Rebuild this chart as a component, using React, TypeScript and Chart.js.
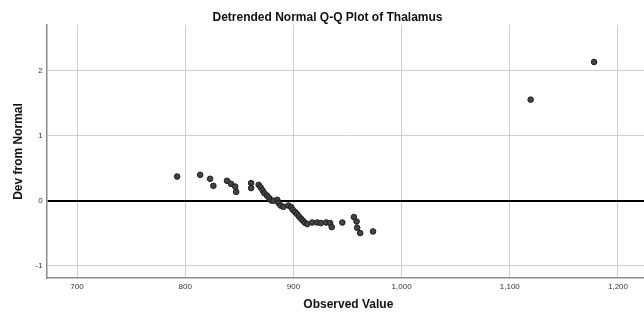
import React, { useEffect, useRef } from "react";
import { Chart, registerables } from "chart.js";

Chart.register(...registerables);

const observedValues = [
  792.5, 813.8, 823.0, 826.0, 838.6, 842.3, 846.2, 847.1, 860.9, 860.9,
  867.9, 869.8, 871.6, 873.1, 875.5, 877.7, 879.6, 881.7, 885.1, 886.3,
  888.1, 890.8, 895.4, 897.9, 899.4, 901.6, 903.4, 905.2, 907.1, 908.9,
  910.7, 912.8, 917.4, 922.0, 925.4, 930.2, 933.9, 935.4, 945.2, 955.9,
  958.4, 958.9, 961.7, 973.6, 1119.3, 1177.9,
];
const devFromNormal = [
  0.370, 0.396, 0.335, 0.227, 0.304, 0.258, 0.216, 0.135, 0.269, 0.192,
  0.242, 0.201, 0.155, 0.115, 0.078, 0.038, 0.002, -0.003, 0.012, -0.038,
  -0.075, -0.095, -0.075, -0.100, -0.141, -0.176, -0.207, -0.244, -0.279, -0.310,
  -0.341, -0.361, -0.336, -0.336, -0.345, -0.336, -0.345, -0.407, -0.336, -0.253,
  -0.321, -0.417, -0.499, -0.474, 1.551, 2.130,
];
const xTickValues = [700, 800, 900, 1000, 1100, 1200];
const yTickValues = [-1, 0, 1, 2];

const FONT = "'Liberation Sans', Arial, sans-serif";

export default function App() {
  const ref = useRef<HTMLCanvasElement | null>(null);

  useEffect(() => {
    if (!ref.current) return;
    const points = observedValues.map((x, i) => ({ x, y: devFromNormal[i] }));
    const chart = new Chart(ref.current, {
      type: "scatter",
      data: {
        datasets: [
          {
            data: points,
            backgroundColor: "#444444",
            borderColor: "#1c1c1c",
            borderWidth: 1,
            pointRadius: 2.8,
          },
        ],
      },
      options: {
        animation: false,
        responsive: false,
        maintainAspectRatio: false,
        layout: { padding: 0 },
        plugins: {
          legend: { display: false },
          tooltip: { enabled: false },
          title: {
            display: true,
            text: "Detrended Normal Q-Q Plot of Thalamus",
            color: "#111",
            font: { family: FONT, size: 12, weight: "bold", lineHeight: 1.2 },
            padding: { top: 10, bottom: 0.6 },
          },
        },
        scales: {
          x: {
            type: "linear",
            min: 671.95,
            max: 1229.6,
            afterFit: (s: any) => {
              s.height = 35;
            },
            afterBuildTicks: (s: any) => {
              s.ticks = xTickValues.map((v) => ({ value: v }));
            },
            ticks: {
              includeBounds: false,
              color: "#333",
              font: { family: FONT, size: 8 },
              padding: 4,
              callback: (v: any) => Number(v).toLocaleString("en-US"),
            },
            grid: { color: "#cfcfcf", lineWidth: 1, drawTicks: false },
            border: { display: true, color: "#8a8a8a", width: 1.5 },
            title: {
              display: true,
              text: "Observed Value",
              color: "#111",
              font: { family: FONT, size: 12, weight: "bold", lineHeight: 1.2 },
              padding: { top: 0, bottom: 1 },
            },
          },
          y: {
            type: "linear",
            min: -1.189,
            max: 2.698,
            afterFit: (s: any) => {
              s.width = 46.7;
            },
            afterBuildTicks: (s: any) => {
              s.ticks = yTickValues.map((v) => ({ value: v }));
            },
            ticks: {
              includeBounds: false,
              color: "#333",
              font: { family: FONT, size: 8 },
              padding: 4,
            },
            grid: {
              color: (c: any) => (c.tick && c.tick.value === 0 ? "#000000" : "#cfcfcf"),
              lineWidth: (c: any) => (c.tick && c.tick.value === 0 ? 2 : 1),
              drawTicks: false,
            },
            border: { display: true, color: "#8a8a8a", width: 1.5 },
            title: {
              display: true,
              text: "Dev from Normal",
              color: "#111",
              font: { family: FONT, size: 12, weight: "bold", lineHeight: 1.2 },
              padding: { top: 11, bottom: 0 },
            },
          },
        },
      },
    });
    return () => chart.destroy();
  }, []);

  return (
    <div
      style={{
        position: "fixed",
        left: 0,
        top: 0,
        width: 644,
        height: 313,
        overflow: "hidden",
        background: "#fff",
      }}
    >
      <canvas ref={ref} width={655} height={313} style={{ width: 655, height: 313, display: "block" }} />
    </div>
  );
}
